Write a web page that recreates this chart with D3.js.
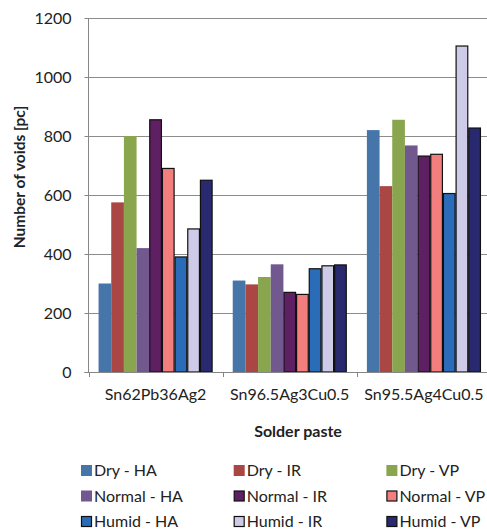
<!DOCTYPE html>
<html>
<head>
<meta charset="utf-8">
<script src="https://cdn.jsdelivr.net/npm/d3@7"></script>
<style>
  html, body { margin: 0; padding: 0; background: #fff; }
  svg { display: block; font-family: Lato, "Open Sans", sans-serif; }
</style>
</head>
<body>
<svg id="chart" width="487" height="529"></svg>
<script>
// Solder pastes on the x axis
const categories = ["Sn62Pb36Ag2", "Sn96.5Ag3Cu0.5", "Sn95.5Ag4Cu0.5"];

// Storage condition - reflow method
const seriesNames = [
  "Dry - HA", "Dry - IR", "Dry - VP",
  "Normal - HA", "Normal - IR", "Normal - VP",
  "Humid - HA", "Humid - IR", "Humid - VP"
];

// Number of voids per series, one value per solder paste
const dryHA    = [300, 310, 820];
const dryIR    = [575, 297, 630];
const dryVP    = [800, 322, 855];
const normalHA = [420, 365, 768];
const normalIR = [855, 270, 732];
const normalVP = [690, 263, 738];
const humidHA  = [390, 350, 605];
const humidIR  = [485, 360, 1105];
const humidVP  = [650, 363, 827];

const seriesValues = [dryHA, dryIR, dryVP, normalHA, normalIR, normalVP, humidHA, humidIR, humidVP];

const yTicks = [0, 200, 400, 600, 800, 1000, 1200];

const colors = ["#4675AA", "#AA4643", "#89A54E", "#71588F", "#5E1F63", "#F27E7E", "#2A6CB8", "#CDCBE7", "#28296E"];
const outlined = [false, false, false, false, true, true, true, true, true];

const svg = d3.select("#chart");
const plot = { left: 88.5, right: 491, top: 18, bottom: 372 };

const y = d3.scaleLinear().domain([0, 1200]).range([plot.bottom, plot.top]);
const x0 = d3.scaleBand().domain(categories).range([plot.left, plot.right])
  .paddingInner(0.15).paddingOuter(0.075);
const x1 = d3.scaleBand().domain(seriesNames).range([0, x0.bandwidth()]);

// Gridlines
svg.append("g")
  .selectAll("line")
  .data(yTicks.filter(d => d > 0))
  .join("line")
  .attr("x1", plot.left).attr("x2", plot.right)
  .attr("y1", d => Math.round(y(d)) + 0.5).attr("y2", d => Math.round(y(d)) + 0.5)
  .attr("stroke", "#8c8c8c").attr("stroke-width", 1);

// Bars
const groups = svg.append("g")
  .selectAll("g")
  .data(categories)
  .join("g")
  .attr("transform", d => `translate(${x0(d)},0)`);

groups.selectAll("rect")
  .data((c, ci) => seriesNames.map((s, si) => ({ s, si, v: seriesValues[si][ci] })))
  .join("rect")
  .attr("x", d => x1(d.s) + (outlined[d.si] ? 0.5 : 0))
  .attr("width", d => x1.bandwidth() - (outlined[d.si] ? 1 : 0))
  .attr("y", d => y(d.v))
  .attr("height", d => y(0) - y(d.v))
  .attr("fill", d => colors[d.si])
  .attr("stroke", d => outlined[d.si] ? "#111" : "none")
  .attr("stroke-width", 1.2);

// Y axis
const yAxis = d3.axisLeft(y).tickValues(yTicks).tickFormat(d3.format("d")).tickSize(4).tickPadding(13);
const gy = svg.append("g")
  .attr("transform", `translate(${plot.left},0)`)
  .call(yAxis);
gy.select(".domain").attr("stroke", "#868686").attr("d", `M0,${plot.top}V${plot.bottom}`);
gy.selectAll(".tick line").attr("stroke", "#868686");
gy.selectAll(".tick text").attr("font-size", 16).attr("fill", "#222")
  .attr("font-family", "Lato, sans-serif");

// X axis with ticks at category boundaries
const xAxisG = svg.append("g");
xAxisG.append("line")
  .attr("x1", plot.left - 4).attr("x2", plot.right)
  .attr("y1", plot.bottom + 0.5).attr("y2", plot.bottom + 0.5)
  .attr("stroke", "#868686");
const step = x0.step();
const boundaries = d3.range(categories.length + 1).map(i => plot.left + i * step);
xAxisG.selectAll("line.tick")
  .data(boundaries)
  .join("line")
  .attr("class", "tick")
  .attr("x1", d => Math.round(d) + 0.5).attr("x2", d => Math.round(d) + 0.5)
  .attr("y1", plot.bottom).attr("y2", plot.bottom + 5)
  .attr("stroke", "#868686");
xAxisG.selectAll("text")
  .data(categories)
  .join("text")
  .attr("x", d => x0(d) + x0.bandwidth() / 2)
  .attr("y", plot.bottom + 28)
  .attr("text-anchor", "middle")
  .attr("font-size", 16)
  .attr("fill", "#222")
  .text(d => d);

// Axis titles
svg.append("text")
  .attr("x", 298).attr("y", 437)
  .attr("text-anchor", "middle")
  .attr("font-size", 16).attr("font-weight", "bold").attr("fill", "#222")
  .text("Solder paste");

svg.append("text")
  .attr("transform", "translate(25,177) rotate(-90)")
  .attr("text-anchor", "middle")
  .attr("font-size", 15.5).attr("font-weight", "bold").attr("fill", "#222")
  .text("Number of voids [pc]");

// Legend: 3 columns x 3 rows
const legend = svg.append("g")
  .selectAll("g")
  .data(seriesNames)
  .join("g")
  .attr("transform", (d, i) => `translate(${81 + (i % 3) * 152.7},${465 + Math.floor(i / 3) * 25.5})`);
legend.append("rect")
  .attr("x", (d, i) => outlined[i] ? 0.5 : 0)
  .attr("y", (d, i) => outlined[i] ? 0.5 : 0)
  .attr("width", (d, i) => outlined[i] ? 10 : 11)
  .attr("height", (d, i) => outlined[i] ? 10 : 11)
  .attr("fill", (d, i) => colors[i])
  .attr("stroke", (d, i) => outlined[i] ? "#111" : "none")
  .attr("stroke-width", 1.2);
legend.append("text")
  .attr("x", 13).attr("y", 11)
  .attr("font-size", 16).attr("fill", "#222")
  .text(d => d);
</script>
</body>
</html>
